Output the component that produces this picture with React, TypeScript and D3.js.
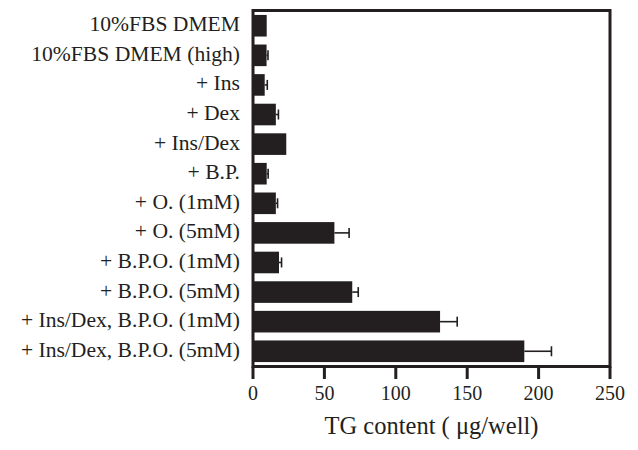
import * as d3 from 'd3'

const categories = [
  '10%FBS DMEM',
  '10%FBS DMEM (high)',
  '+ Ins',
  '+ Dex',
  '+ Ins/Dex',
  '+ B.P.',
  '+ O. (1mM)',
  '+ O. (5mM)',
  '+ B.P.O. (1mM)',
  '+ B.P.O. (5mM)',
  '+ Ins/Dex, B.P.O. (1mM)',
  '+ Ins/Dex, B.P.O. (5mM)'
]
const means = [9.6, 9.5, 8.2, 16, 23.3, 9.6, 16, 57, 18.2, 69.5, 131, 190]
const errors = [0, 1, 1.8, 1.8, 0, 1, 1.2, 10.3, 1.8, 4.2, 12, 19]
const xTicks = [0, 50, 100, 150, 200, 250]

const ink = '#231f20'
const font = '"Liberation Serif", "Times New Roman", serif'

export default function App() {
  const width = 638
  const height = 450
  const left = 253
  const right = 610
  const top = 10.5
  const bottom = 366.5

  const x = d3.scaleLinear().domain([0, 250]).range([left, right])
  const y = d3.scaleBand<string>()
    .domain(categories)
    .range([top, bottom])
    .paddingInner(0.27)
    .paddingOuter(0.15)

  const bw = y.bandwidth()

  return (
    <svg width={width} height={height} style={{ position: 'absolute', left: 0, top: 0 }}>
      <rect width={width} height={height} fill="#fff" />

      {/* bars */}
      {categories.map((c, i) => (
        <rect key={c} x={x(0)} y={y(c)} width={x(means[i]) - x(0)} height={bw} fill={ink} />
      ))}

      {/* error bars */}
      {categories.map((c, i) => {
        if (!errors[i]) return null
        const cy = (y(c) || 0) + bw / 2
        const x1 = x(means[i])
        const x2 = x(means[i] + errors[i])
        return (
          <g key={c} stroke={ink} strokeWidth={1.6}>
            <line x1={x1} x2={x2} y1={cy} y2={cy} />
            <line x1={x2} x2={x2} y1={cy - 5} y2={cy + 5} />
          </g>
        )
      })}

      {/* frame */}
      <rect x={left} y={top} width={right - left} height={bottom - top} fill="none" stroke={ink} strokeWidth={3} />

      {/* x ticks */}
      {xTicks.map(t => (
        <g key={t}>
          <line x1={x(t)} x2={x(t)} y1={bottom} y2={379} stroke={ink} strokeWidth={3} />
          <text x={x(t)} y={400} textAnchor="middle" fontFamily={font} fontSize={20} fill={ink}>
            {t}
          </text>
        </g>
      ))}

      {/* category labels */}
      {categories.map(c => (
        <text
          key={c}
          x={240}
          y={(y(c) || 0) + bw / 2 + 5.5}
          textAnchor="end"
          fontFamily={font}
          fontSize={21.6}
          fill={ink}
        >
          {c}
        </text>
      ))}

      <text x={(left + right) / 2} y={434} textAnchor="middle" fontFamily={font} fontSize={24.5} fill={ink}>
        TG content ( μg/well)
      </text>
    </svg>
  )
}
